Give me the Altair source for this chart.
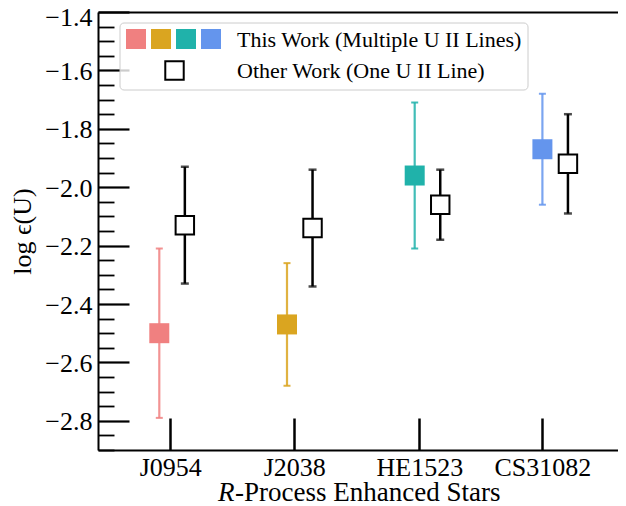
import altair as alt
import pandas as pd

# ---- data ----
stars = ["J0954", "J2038", "HE1523", "CS31082"]
this_vals = [-2.50, -2.47, -1.96, -1.87]
this_errs = [0.29, 0.21, 0.25, 0.19]
other_vals = [-2.13, -2.14, -2.06, -1.92]
other_errs = [0.20, 0.20, 0.12, 0.17]
colors = ["#F08080", "#DAA520", "#20B2AA", "#6495ED"]
star_pos = [0, 1, 2, 3]
other_shift = 0.2
tick_pos = [0.086, 1.057, 2.036, 3.0]
y_major = [-2.8, -2.6, -2.4, -2.2, -2.0, -1.8, -1.6, -1.4]
y_minor = [-2.9, -2.85, -2.75, -2.7, -2.65, -2.55, -2.5, -2.45, -2.35, -2.3,
           -2.25, -2.15, -2.1, -2.05, -1.95, -1.9, -1.85, -1.75, -1.7, -1.65,
           -1.55, -1.5, -1.45]
legend_labels = ["This Work (Multiple U II Lines)", "Other Work (One U II Line)"]

FONT = "'Liberation Serif', 'Times New Roman', 'DejaVu Serif', serif"

df = pd.DataFrame({
    "star": stars,
    "x_this": star_pos,
    "x_other": [p + other_shift for p in star_pos],
    "v_this": this_vals,
    "lo_this": [v - e for v, e in zip(this_vals, this_errs)],
    "hi_this": [v + e for v, e in zip(this_vals, this_errs)],
    "v_other": other_vals,
    "lo_other": [v - e for v, e in zip(other_vals, other_errs)],
    "hi_other": [v + e for v, e in zip(other_vals, other_errs)],
})
caps_this = pd.concat([
    df[["star", "x_this"]].assign(y=df["lo_this"]),
    df[["star", "x_this"]].assign(y=df["hi_this"]),
])
caps_other = pd.concat([
    df[["star", "x_other"]].assign(y=df["lo_other"]),
    df[["star", "x_other"]].assign(y=df["hi_other"]),
])

xs = alt.Scale(domain=[-0.48, 3.592], nice=False, zero=False)
ys = alt.Scale(domain=[-2.9, -1.4], nice=False, zero=False)
cs = alt.Scale(domain=stars, range=colors)

label_expr = ""
for i, s in enumerate(stars):
    if i < len(stars) - 1:
        label_expr += f"datum.value < {tick_pos[i] + 0.4} ? '{s}' : "
    else:
        label_expr += f"'{s}'"

main_y_axis = alt.Axis(orient="left", values=y_major, format=".1f", ticks=False, tickSize=0,
                       labelPadding=6, labelFont=FONT, labelFontSize=26, labelColor="black",
                       labelOffset={"condition": {"test": "datum.value > -1.45", "value": 5}, "value": 1},
                       domain=True, domainColor="black", domainWidth=2, grid=False,
                       title="log ϵ(U)", titleFont=FONT, titleFontSize=26, titleFontWeight="normal",
                       titleColor="black", titlePadding=9)
main_x_axis = alt.Axis(orient="bottom", values=tick_pos, labelExpr=label_expr, ticks=False, tickSize=0,
                       labelPadding=4, labelFont=FONT, labelFontSize=26, labelColor="black",
                       domain=True, domainColor="black", domainWidth=2, grid=False, title=None,
                       labelFlush=False, labelOverlap=False)

def blank(xaxis, yaxis):
    return alt.Chart(df).mark_point(opacity=0).encode(
        x=alt.X("x_this:Q", scale=xs, axis=xaxis),
        y=alt.Y("v_this:Q", scale=ys, axis=yaxis),
    )

base = blank(main_x_axis, main_y_axis)
ymaj = blank(None, alt.Axis(orient="left", values=y_major, offset=-31, tickSize=31, tickWidth=2.2,
                            tickColor="black", labels=False, domain=False, grid=False, title=None))
ymin = blank(None, alt.Axis(orient="left", values=y_minor, offset=-16, tickSize=16, tickWidth=1.8,
                            tickColor="black", labels=False, domain=False, grid=False, title=None))
xtk = blank(alt.Axis(orient="bottom", values=tick_pos, offset=-32, tickSize=32, tickWidth=2.5,
                     tickColor="black", labels=False, domain=False, grid=False, title=None), None)
xtop = blank(alt.Axis(orient="top", ticks=False, labels=False, domain=True, domainColor="black",
                      domainWidth=2, grid=False, title=None), None)

this_rule = alt.Chart(df).mark_rule(strokeWidth=2.2, opacity=0.85).encode(
    x=alt.X("x_this:Q", scale=xs, axis=None),
    y=alt.Y("lo_this:Q", scale=ys, axis=None), y2="hi_this:Q",
    color=alt.Color("star:N", scale=cs, legend=None))
this_caps = alt.Chart(caps_this).mark_tick(orient="horizontal", size=7, thickness=2, opacity=0.85).encode(
    x=alt.X("x_this:Q", scale=xs, axis=None),
    y=alt.Y("y:Q", scale=ys, axis=None),
    color=alt.Color("star:N", scale=cs, legend=None))
this_sq = alt.Chart(df).mark_square(size=400, opacity=1).encode(
    x=alt.X("x_this:Q", scale=xs, axis=None),
    y=alt.Y("v_this:Q", scale=ys, axis=None),
    color=alt.Color("star:N", scale=cs, legend=None))

other_rule = alt.Chart(df).mark_rule(strokeWidth=2.5, color="black").encode(
    x=alt.X("x_other:Q", scale=xs, axis=None),
    y=alt.Y("lo_other:Q", scale=ys, axis=None), y2="hi_other:Q")
other_caps = alt.Chart(caps_other).mark_tick(orient="horizontal", size=8, thickness=2.5, color="black").encode(
    x=alt.X("x_other:Q", scale=xs, axis=None),
    y=alt.Y("y:Q", scale=ys, axis=None))
other_sq = alt.Chart(df).mark_square(size=340, filled=True, fill="white", stroke="black",
                                     strokeWidth=2, opacity=1).encode(
    x=alt.X("x_other:Q", scale=xs, axis=None),
    y=alt.Y("v_other:Q", scale=ys, axis=None))

# ---- hand-built legend (pixel positions relative to the plot area) ----
one = pd.DataFrame({"k": [0]})
leg_box = alt.Chart(one).mark_rect(fill="white", fillOpacity=0.8, stroke="#cccccc", strokeWidth=1,
                                   cornerRadius=4).encode(
    x=alt.value(22), x2=alt.value(430), y=alt.value(11), y2=alt.value(78))
leg_sq_df = pd.DataFrame({"c": colors, "px": [38 + 25 * i for i in range(len(colors))]})
leg_sq = alt.Chart(leg_sq_df).mark_square(size=400, opacity=1).encode(
    x=alt.X("px:Q", scale=None, axis=None), y=alt.value(27),
    color=alt.Color("c:N", scale=None, legend=None))
leg_open = alt.Chart(one).mark_square(size=340, filled=True, fill="white", stroke="black",
                                      strokeWidth=2, opacity=1).encode(
    x=alt.value(76.5), y=alt.value(58.5))
leg_txt_df = pd.DataFrame({"t": legend_labels, "py": [28, 59]})
leg_txt = alt.Chart(leg_txt_df).mark_text(align="left", baseline="middle", font=FONT, fontSize=22,
                                          color="black").encode(
    x=alt.value(139), y=alt.Y("py:Q", scale=None, axis=None), text="t:N")

# ---- x-axis title with italic R ----
xt_r = alt.Chart(one).mark_text(align="left", baseline="alphabetic", font=FONT, fontSize=27,
                                fontStyle="italic", color="black", text="R").encode(
    x=alt.value(120), y=alt.value(489))
xt_rest = alt.Chart(one).mark_text(align="left", baseline="alphabetic", font=FONT, fontSize=27,
                                   color="black", text="-Process Enhanced Stars").encode(
    x=alt.value(137), y=alt.value(489))

chart = alt.layer(
    base, ymaj, ymin, xtk, xtop,
    this_rule, this_caps, this_sq,
    other_rule, other_caps, other_sq,
    leg_box, leg_sq, leg_open, leg_txt,
    xt_r, xt_rest,
).resolve_axis(x="independent", y="independent").properties(
    width=520, height=438,
    autosize=alt.AutoSizeParams(type="none"),
    padding={"left": 90, "top": 4, "right": 0, "bottom": 54},
).configure_view(stroke=None)

chart.save("out.html", embed_options={"renderer": "svg", "actions": False})
